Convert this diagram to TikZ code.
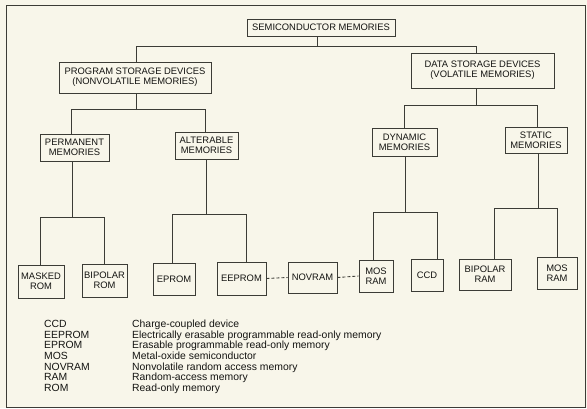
\documentclass[tikz,border=0pt]{standalone}
\usepackage{fontspec}
\setmainfont{Liberation Sans}
\usetikzlibrary{calc}
\definecolor{paper}{RGB}{248,246,234}
\definecolor{ink}{RGB}{60,60,54}
\definecolor{txt}{RGB}{20,20,18}
\begin{document}
\begin{tikzpicture}[x=1pt,y=-1pt,
  box/.style={draw=ink,line width=0.9pt,inner sep=0pt,align=center,text=txt,
    font=\fontsize{9.4}{10.3}\selectfont},
  link/.style={draw=ink,line width=0.9pt},
  dlink/.style={draw=ink,line width=0.9pt,dash pattern=on 3pt off 2pt}]
\fill[paper] (0,0) rectangle (587,408);
\useasboundingbox (0,0) rectangle (587,408);
\draw[ink,line width=0.9pt] (6,5) rectangle (585,407);
% level 0
\node[box,minimum width=148pt,minimum height=17pt] (top) at (321,27.5) {SEMICONDUCTOR MEMORIES};
% level 1
\node[box,minimum width=152pt,minimum height=31pt] (prog) at (135,77.5) {PROGRAM STORAGE DEVICES\\(NONVOLATILE MEMORIES)};
\node[box,minimum width=143pt,minimum height=35pt] (data) at (482.5,70.5) {DATA STORAGE DEVICES\\(VOLATILE MEMORIES)};
% level 2
\node[box,minimum width=69pt,minimum height=27pt] (perm) at (74.5,147.5) {PERMANENT\\MEMORIES};
\node[box,minimum width=63pt,minimum height=27pt] (alt) at (206.5,145.5) {ALTERABLE\\MEMORIES};
\node[box,minimum width=65pt,minimum height=28pt] (dyn) at (404.5,142) {DYNAMIC\\MEMORIES};
\node[box,minimum width=62pt,minimum height=26pt] (stat) at (536,140) {STATIC\\MEMORIES};
% level 3
\node[box,minimum width=46pt,minimum height=33pt] (masked) at (41,281.5) {MASKED\\ROM};
\node[box,minimum width=45pt,minimum height=33pt] (brom) at (104.5,280.5) {BIPOLAR\\ROM};
\node[box,minimum width=42pt,minimum height=32pt] (eprom) at (174,279) {EPROM};
\node[box,minimum width=49pt,minimum height=33pt] (eeprom) at (241.5,278.5) {EEPROM};
\node[box,minimum width=49pt,minimum height=31pt] (novram) at (312.5,277.5) {NOVRAM};
\node[box,minimum width=34pt,minimum height=32pt] (mosram) at (376,276) {MOS\\RAM};
\node[box,minimum width=32pt,minimum height=32pt] (ccd) at (427,275) {CCD};
\node[box,minimum width=52pt,minimum height=31pt] (bram) at (485,274.5) {BIPOLAR\\RAM};
\node[box,minimum width=40pt,minimum height=32pt] (mosram2) at (557,273) {MOS\\RAM};
% connectors
\draw[link] ([xshift=-4pt]top.south) -- ++(0,10) coordinate (j0);
\draw[link] ([xshift=1pt]prog.north) |- (j0) -| ([xshift=-6pt]data.north);
\draw[link] ([xshift=1pt]prog.south) -- ++(0,16) coordinate (j1);
\draw[link] ([xshift=-3pt]perm.north) |- (j1) -| ([xshift=-1pt]alt.north);
\draw[link] ([xshift=-6pt]data.south) -- ++(0,17) coordinate (j2);
\draw[link] (dyn.north) |- (j2) -| ([xshift=1pt]stat.north);
\draw[link] ([xshift=-2pt]perm.south) -- ++(0,56) coordinate (j3);
\draw[link] ([xshift=-1pt]masked.north) |- (j3) -| (brom.north);
\draw[link] (alt.south) -- ++(0,55) coordinate (j4);
\draw[link] ([xshift=-2pt]eprom.north) |- (j4) -| ([xshift=5pt]eeprom.north);
\draw[link] ([xshift=1pt]dyn.south) -- ++(0,56) coordinate (j5);
\draw[link] ([xshift=-3pt]mosram.north) |- (j5) -| ([xshift=10pt]ccd.north);
\draw[link] ([xshift=2pt]stat.south) -- ++(0,55) coordinate (j6);
\draw[link] ([xshift=9pt]bram.north) |- (j6) -| (mosram2.north);
\draw[dlink] (eeprom.east) -- (novram.west);
\draw[dlink] (novram.east) -- (mosram.west);
% legend
\node[anchor=north west,inner sep=0pt,text=txt,font=\fontsize{10.4}{10.2}\selectfont] (legend) at (44,320) {%
\begin{tabular}{@{}p{88pt}@{}l@{}}
CCD & Charge-coupled device\\
EEPROM & Electrically erasable programmable read-only memory\\
EPROM & Erasable programmable read-only memory\\
MOS & Metal-oxide semiconductor\\
NOVRAM & Nonvolatile random access memory\\
RAM & Random-access memory\\
ROM & Read-only memory
\end{tabular}};
\end{tikzpicture}
\end{document}
